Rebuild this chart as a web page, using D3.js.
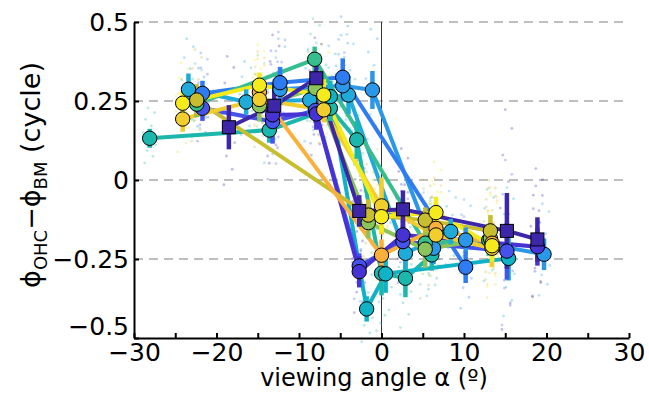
<!DOCTYPE html>
<html>
<head>
<meta charset="utf-8">
<script src="https://cdn.jsdelivr.net/npm/d3@7"></script>
<style>
  body { margin: 0; background: #fff; }
  svg { display: block; font-family: "DejaVu Sans", Verdana, sans-serif; }
</style>
</head>
<body>
<div id="chart"></div>
<script>
// each point: [viewing angle (deg), phase difference (cycle), error bar half-length]
const sPurple = [[-18.5, 0.167, 0.07], [-13, 0.235, 0.07], [-7.9, 0.322, 0.04], [-2.7, -0.098, 0.05], [2.6, -0.093, 0.06], [15.2, -0.161, 0.12], [18.9, -0.188, 0.07]];
const sIndigo = [[-13.2, 0.206, 0.05], [-7.9, 0.209, 0.05], [-2.7, -0.29, 0.05], [2.6, -0.174, 0.05], [18.9, -0.211, 0.06]];
const sViolet = [[-21.7, 0.227, 0.04], [-13.2, 0.185, 0.07], [-8, 0.22, 0.04], [-2.7, -0.272, 0.04], [2.6, -0.195, 0.05], [15.2, -0.225, 0.09]];
const sBlue = [[-21.7, 0.274, 0.04], [-12.3, 0.308, 0.05], [-4.7, 0.325, 0.06], [10.2, -0.276, 0.05]];
const sLightBlue = [[-12.3, 0.287, 0.05], [-4.7, 0.298, 0.05], [-1.1, 0.285, 0.06], [6.3, -0.216, 0.05], [10.2, -0.19, 0.04], [19.7, -0.235, 0.05]];
const sCyan = [[-23.4, 0.287, 0.05], [-16.4, 0.247, 0.04], [-8.7, 0.253, 0.05], [-4.0, 0.269, 0.06], [2.9, -0.232, 0.05], [8.4, -0.163, 0.04]];
const sCyan2 = [[-6.2, 0.264, 0.05], [-1.8, -0.408, 0.04], [0.5, -0.297, 0.06], [15.4, -0.248, 0.07]];
const sTeal = [[-28.1, 0.132, 0.03], [-13.6, 0.158, 0.04], [-6.2, 0.227, 0.04], [-3.0, 0.127, 0.06], [0, -0.295, 0.07], [2.9, -0.311, 0.06], [6.1, -0.237, 0.05]];
const sGreenTeal = [[-22.4, 0.24, 0.04], [-8.1, 0.382, 0.04], [5.3, -0.2, 0.05], [13.0, -0.19, 0.05]];
const sLightGreen = [[-14.8, 0.235, 0.05], [-8.0, 0.29, 0.04], [-1.6, -0.135, 0.05], [5.3, -0.219, 0.06], [13.2, -0.185, 0.05]];
const sOlive = [[-22.4, 0.253, 0.05], [-1.6, -0.111, 0.05], [5.3, -0.127, 0.04], [13.2, -0.161, 0.05]];
const sOrange = [[-14.8, 0.278, 0.04], [0, -0.238, 0.05], [6.6, -0.153, 0.05], [13.4, -0.2, 0.05]];
const sGold = [[-24.1, 0.193, 0.04], [-14.8, 0.255, 0.04], [-7.0, 0.222, 0.04], [0, -0.082, 0.09], [6.6, -0.174, 0.05], [13.4, -0.216, 0.06]];
const sYellow = [[-24.1, 0.243, 0.04], [-14.8, 0.30, 0.04], [-7.0, 0.269, 0.05], [0, -0.116, 0.05], [6.6, -0.103, 0.05], [13.4, -0.208, 0.05]];

// drawing order (later on top)
const seriesList = [sTeal, sCyan2, sCyan, sLightBlue, sBlue, sViolet, sIndigo, sGreenTeal, sLightGreen, sOlive, sOrange, sGold, sYellow, sPurple];
const seriesColors = ['#1bb7ad', '#10b2c6', '#1faad9', '#2a97e8', '#2f7cf2', '#4652ec', '#4733d4', '#37be8f', '#8bc45a', '#c8bd2f', '#fbb03b', '#f1cd2e', '#f5ea1c', '#3e26a8'];
const seriesSquare = [false, false, false, false, false, false, false, false, false, false, false, false, false, true];

// raw-sample spread around each mean, in units of the error bar
const sampleSpread = [[-0.6, -2.6], [0.4, -1.9], [-0.3, -1.3], [0.7, -0.7], [-0.8, 0.6], [0.2, 1.3], [-0.5, 2.0], [0.6, 2.7], [-0.2, 3.2]];

const xTicks = d3.range(-30, 31, 5);
const yTicks = [0.5, 0.25, 0, -0.25, -0.5];
const yTickLabels = ['0.5', '0.25', '0', '\u22120.25', '\u22120.5'];
const gridValues = [0.5, 0.25, 0, -0.25];

const W = 649, H = 393;
const margin = { top: 22, right: 20, bottom: 55, left: 134 };

const svg = d3.select('#chart').append('svg')
  .attr('width', W).attr('height', H);

const x = d3.scaleLinear().domain([-30, 30]).range([margin.left, W - margin.right]);
const y = d3.scaleLinear().domain([-0.5, 0.5]).range([H - margin.bottom, margin.top]);

// dashed grid
svg.append('g').selectAll('line').data(gridValues).enter().append('line')
  .attr('x1', x(-30)).attr('x2', x(30))
  .attr('y1', d => y(d)).attr('y2', d => y(d))
  .attr('stroke', '#aaa').attr('stroke-width', 1.3)
  .attr('stroke-dasharray', '9,6');

// zero angle line
svg.append('line')
  .attr('x1', x(0)).attr('x2', x(0))
  .attr('y1', y(0.5)).attr('y2', y(-0.5))
  .attr('stroke', '#333').attr('stroke-width', 1);

// faint raw samples
seriesList.forEach((s, i) => {
  const pts = [];
  s.forEach(p => sampleSpread.forEach(o => pts.push([p[0] + o[0], p[1] + o[1] * p[2]])));
  svg.append('g').selectAll('circle').data(pts).enter().append('circle')
    .attr('cx', d => x(d[0])).attr('cy', d => y(d[1]))
    .attr('r', 1.4)
    .attr('fill', seriesColors[i]).attr('opacity', 0.3);
});

// connecting lines
const line = d3.line().x(d => x(d[0])).y(d => y(d[1]));
seriesList.forEach((s, i) => {
  svg.append('path').datum(s)
    .attr('d', line)
    .attr('fill', 'none')
    .attr('stroke', seriesColors[i])
    .attr('stroke-width', 4)
    .attr('stroke-linejoin', 'round');
});

// error bars
seriesList.forEach((s, i) => {
  svg.append('g').selectAll('line').data(s).enter().append('line')
    .attr('x1', d => x(d[0])).attr('x2', d => x(d[0]))
    .attr('y1', d => y(d[1] - d[2])).attr('y2', d => y(d[1] + d[2]))
    .attr('stroke', seriesColors[i]).attr('stroke-width', 4.5);
});

// markers
seriesList.forEach((s, i) => {
  const g = svg.append('g');
  if (seriesSquare[i]) {
    g.selectAll('rect').data(s).enter().append('rect')
      .attr('x', d => x(d[0]) - 6.5).attr('y', d => y(d[1]) - 6.5)
      .attr('width', 13).attr('height', 13)
      .attr('fill', seriesColors[i]).attr('stroke', '#000').attr('stroke-width', 1);
  } else {
    g.selectAll('circle').data(s).enter().append('circle')
      .attr('cx', d => x(d[0])).attr('cy', d => y(d[1]))
      .attr('r', 7.2)
      .attr('fill', seriesColors[i]).attr('stroke', '#000').attr('stroke-width', 1);
  }
});

// axes
const yAxis = svg.append('g')
  .attr('transform', `translate(${margin.left},0)`)
  .call(d3.axisLeft(y).tickValues(yTicks).tickFormat((d, i) => yTickLabels[i])
    .tickSizeInner(-5).tickSizeOuter(0).tickPadding(5));
const xAxis = svg.append('g')
  .attr('transform', `translate(0,${H - margin.bottom})`)
  .call(d3.axisBottom(x).tickValues(xTicks).tickFormat(d => d % 10 === 0 ? d3.format('')(d) : '')
    .tickSizeInner(-5).tickSizeOuter(0).tickPadding(4));

[yAxis, xAxis].forEach(a => {
  a.select('.domain').attr('stroke', '#000').attr('stroke-width', 2);
  a.selectAll('.tick line').attr('stroke', '#000').attr('stroke-width', 2);
  a.selectAll('.tick text').attr('fill', '#000').style('font-size', '25px')
    .style('font-family', '"DejaVu Sans", Verdana, sans-serif');
});
xAxis.selectAll('.tick text').attr('dy', '0.74em');
// lowest y label sits a little above the axis corner
yAxis.selectAll('.tick text').filter(d => d === -0.5).attr('dy', '-0.16em');

// axis titles
svg.append('text')
  .attr('x', 374).attr('y', 386)
  .attr('text-anchor', 'middle')
  .style('font-size', '24px')
  .text('viewing angle \u03b1 (\u00ba)');

const yl = svg.append('text')
  .attr('transform', 'translate(40,175) rotate(-90)')
  .attr('text-anchor', 'middle')
  .style('font-size', '27px');
yl.append('tspan').text('\u03d5');
yl.append('tspan').attr('dy', 7).style('font-size', '18px').text('OHC');
yl.append('tspan').attr('dy', -7).text('\u2212\u03d5');
yl.append('tspan').attr('dy', 7).style('font-size', '18px').text('BM');
yl.append('tspan').attr('dy', -7).text('\u00a0(cycle)');
</script>
</body>
</html>
